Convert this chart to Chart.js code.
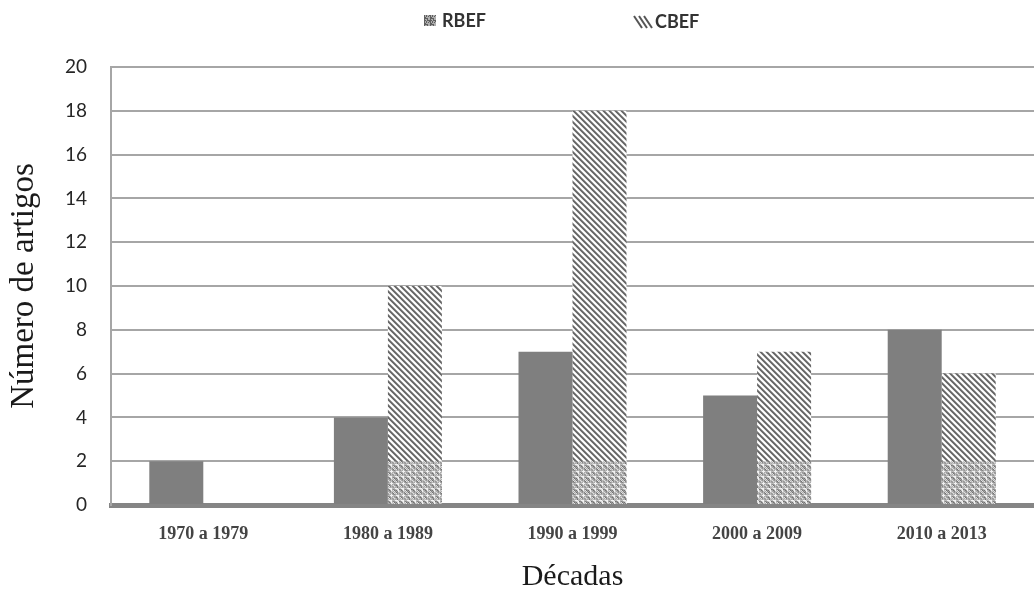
<!DOCTYPE html>
<html>
<head>
<meta charset="utf-8">
<script src="https://cdn.jsdelivr.net/npm/chart.js@4"></script>
<style>
  html, body { margin: 0; padding: 0; background: #fff; }
  #wrap { width: 1034px; height: 589px; position: relative; }
</style>
</head>
<body>
<div id="wrap"><canvas id="decadeChart"></canvas></div>
<script>
const decades = ["1970 a 1979", "1980 a 1989", "1990 a 1999", "2000 a 2009", "2010 a 2013"];
const rbefCounts = [2, 4, 7, 5, 8];
const cbefCounts = [0, 10, 18, 7, 6];
const seriesNames = ["RBEF", "CBEF"];
const yMax = 20;
const yStep = 2;

// small bitmap tiles used as fills
function makeTile(size, shade) {
  const c = document.createElement("canvas");
  c.width = size; c.height = size;
  const g = c.getContext("2d");
  const img = g.createImageData(size, size);
  for (let y = 0; y < size; y++) {
    for (let x = 0; x < size; x++) {
      const v = shade(x, y);
      const i = (y * size + x) * 4;
      img.data[i] = v; img.data[i + 1] = v; img.data[i + 2] = v; img.data[i + 3] = 255;
    }
  }
  g.putImageData(img, 0, 0);
  return c;
}

const ctx = document.getElementById("decadeChart").getContext("2d");

// "\" stripes for CBEF
const stripeTile = makeTile(12, (x, y) => {
  const p = (x - y + 24) % 6;
  return p < 2 ? 105 : p === 2 ? 160 : p === 5 ? 220 : 255;
});
const stripes = ctx.createPattern(stripeTile, "repeat");

// grainy fill near the floor of the CBEF bars
const grainTile = makeTile(12, (x, y) => {
  const d = ((x - y + 24) % 6) < 3;
  const n = (x * 7 + y * 13 + ((x * y) % 5)) % 5;
  const base = d ? 150 : 205;
  return base + (n - 2) * 18;
});
const grain = ctx.createPattern(grainTile, "repeat");

// speckled swatch for the RBEF legend box
const speckTile = makeTile(6, (x, y) => ((x * 5 + y * 3 + ((x * y) % 3)) % 4) < 2 ? 95 : 175);
const speck = ctx.createPattern(speckTile, "repeat");

const floorTexture = {
  id: "floorTexture",
  afterDatasetsDraw(chart) {
    const meta = chart.getDatasetMeta(1);
    const yScale = chart.scales.y;
    const c = chart.ctx;
    c.save();
    c.fillStyle = grain;
    meta.data.forEach((bar, i) => {
      const v = cbefCounts[i];
      if (!v) return;
      const top = yScale.getPixelForValue(Math.min(v, yStep));
      const left = bar.x - bar.width / 2;
      c.fillRect(left, top, bar.width, bar.base - top);
    });
    c.restore();
  }
};

const topLegend = {
  id: "topLegend",
  afterDraw(chart) {
    const c = chart.ctx;
    c.save();
    c.fillStyle = speck;
    c.fillRect(424, 15, 12, 11);
    c.strokeStyle = "#555";
    c.lineWidth = 2;
    for (let k = 0; k < 3; k++) {
      c.beginPath();
      c.moveTo(634 + k * 5, 16);
      c.lineTo(642 + k * 5, 28);
      c.stroke();
    }
    c.font = "bold 18px Lato";
    c.fillStyle = "#333";
    c.textBaseline = "middle";
    c.fillText(chart.data.datasets[0].label, 442, 21);
    c.fillText(chart.data.datasets[1].label, 655, 22);
    c.restore();
  }
};

new Chart(ctx, {
  type: "bar",
  data: {
    labels: decades,
    datasets: [
      {
        label: seriesNames[0],
        data: rbefCounts,
        backgroundColor: "#7f7f7f",
        categoryPercentage: 0.585,
        barPercentage: 1.0,
      },
      {
        label: seriesNames[1],
        data: cbefCounts,
        backgroundColor: stripes,
        categoryPercentage: 0.585,
        barPercentage: 1.0,
      },
    ],
  },
  options: {
    responsive: true,
    maintainAspectRatio: false,
    animation: false,
    layout: { padding: { top: 67, right: 0, left: 0, bottom: 0 } },
    plugins: {
      legend: { display: false },
      tooltip: { enabled: false },
    },
    scales: {
      x: {
        grid: { display: false },
        border: { color: "#858585", width: 5 },
        ticks: {
          color: "#444",
          padding: 11,
          font: { size: 18, weight: "bold", family: "Liberation Serif" },
        },
        title: {
          display: true,
          text: "Décadas",
          color: "#1a1a1a",
          font: { size: 30, family: "Liberation Serif", lineHeight: 0.8 },
          padding: { top: 0, bottom: 0 },
        },
        afterFit: (scale) => { scale.height = 84; },
      },
      y: {
        min: 0,
        max: yMax,
        grid: { color: "#a6a6a6", lineWidth: 2, drawTicks: false },
        border: { color: "#a6a6a6", width: 2 },
        ticks: {
          stepSize: yStep,
          color: "#262626",
          padding: 24,
          font: { size: 19, family: "Lato" },
        },
        title: {
          display: true,
          text: "Número de artigos",
          color: "#1a1a1a",
          font: { size: 33, family: "Liberation Serif", lineHeight: 1 },
          padding: { top: 8, bottom: 0 },
        },
        afterFit: (scale) => { scale.width = 111; },
      },
    },
  },
  plugins: [floorTexture, topLegend],
});
</script>
</body>
</html>
